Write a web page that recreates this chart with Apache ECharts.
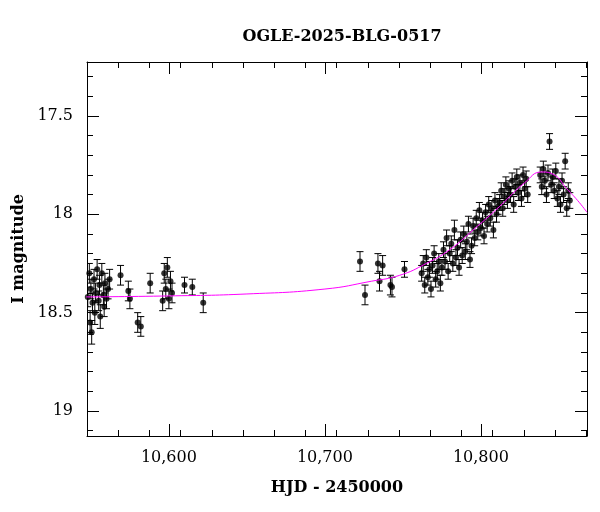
<!DOCTYPE html>
<html><head><meta charset="utf-8">
<script src="https://cdn.jsdelivr.net/npm/echarts@6/dist/echarts.min.js"></script>
<style>body{margin:0}#main{width:600px;height:512px}</style>
</head><body><div id="main"></div>
<script>
// HJD - 2450000, I magnitude, error
var obsHjd = [10548,10549,10549.5,10550,10550.5,10551,10552,10552.5,10553,10554,10555,10555.5,10556,10557,10558,10558.5,10559,10560,10561,10562,
  10569,10574,10575,10580,10582,10588,10596,10597,10598,10599,10600,10601,10602,10610,10615,10622,
  10722.5,10725.7,10734,10735,10737,10742,10743,10751,
  10762,10763,10764,10765,10766,10767,10768,10769,10770,10771,10772,10773,10774,10775,
  10776,10777,10778,10779,10780,10781,10782,10783,10784,10785,10786,10787,10788,10789,10790,10791,10792,10793,10794,
  10795,10796,10797,10798,10799,10800,10801,10802,10803,10804,10805,10806,10807,10808,10809,10810,10811,
  10812,10813,10814,10815,10816,10817,10818,10819,10820,10821,10822,10823,10824,10825,10826,10827,10828,10829,10830,
  10838,10839,10840,10841,10842,10843,10844,10845,10846,10847,10848,10849,
  10850,10851,10852,10853,10854,10855,10856,10857];
var obsMag = [18.42,18.30,18.55,18.38,18.60,18.45,18.33,18.50,18.40,18.28,18.44,18.36,18.52,18.30,18.41,18.47,18.35,18.43,18.38,18.33,
  18.31,18.39,18.43,18.55,18.57,18.35,18.44,18.30,18.38,18.27,18.43,18.34,18.40,18.36,18.37,18.45,
  18.24,18.41,18.25,18.34,18.26,18.36,18.37,18.28,
  18.30,18.25,18.36,18.22,18.32,18.28,18.38,18.26,18.20,18.33,18.29,18.24,18.35,18.27,
  18.18,18.24,18.12,18.29,18.20,18.15,18.25,18.08,18.22,18.17,18.27,18.13,18.21,18.10,18.19,18.14,18.05,18.23,18.16,
  18.06,18.12,18.02,18.09,17.98,18.07,18.03,18.11,17.99,18.05,17.95,18.02,17.97,18.08,17.93,18.00,17.96,
  17.94,17.88,17.97,17.91,17.85,17.93,17.87,17.90,17.83,17.95,17.86,17.81,17.89,17.84,17.92,17.80,17.87,17.82,17.90,
  17.80,17.86,17.77,17.83,17.90,17.79,17.63,17.85,17.81,17.88,17.78,17.92,
  17.86,17.95,17.83,17.90,17.73,17.97,17.88,17.93];
var obsErr = [0.05,0.05,0.06,0.05,0.06,0.05,0.05,0.06,0.05,0.05,0.05,0.05,0.06,0.05,0.05,0.05,0.05,0.05,0.05,0.05,
  0.05,0.05,0.05,0.05,0.05,0.05,0.05,0.05,0.05,0.05,0.05,0.05,0.05,0.04,0.04,0.05,
  0.05,0.05,0.05,0.05,0.05,0.05,0.05,0.04,
  0.04,0.04,0.04,0.04,0.04,0.04,0.04,0.04,0.04,0.04,0.04,0.04,0.04,0.04,
  0.04,0.04,0.04,0.04,0.04,0.04,0.04,0.05,0.04,0.04,0.04,0.04,0.04,0.04,0.04,0.04,0.04,0.04,0.04,
  0.04,0.04,0.04,0.04,0.04,0.04,0.04,0.04,0.04,0.04,0.04,0.04,0.04,0.04,0.04,0.04,0.04,
  0.04,0.04,0.04,0.04,0.04,0.04,0.04,0.04,0.04,0.04,0.04,0.04,0.04,0.04,0.04,0.04,0.04,0.04,0.04,
  0.04,0.04,0.04,0.04,0.04,0.04,0.04,0.04,0.04,0.04,0.04,0.04,
  0.04,0.04,0.04,0.04,0.04,0.04,0.04,0.04];
var modelHjd = [10547,10600,10650,10700,10730,10748,10765,10780,10795,10812,10828,10839,10847,10855,10862,10868];
var modelMag = [18.42,18.415,18.405,18.38,18.34,18.31,18.25,18.18,18.08,17.96,17.84,17.785,17.80,17.87,17.93,17.99];
var xMajor = [10600,10700,10800];
var yMajor = [17.5,18,18.5,19];

var FONT = 'DejaVu Serif';
var XMIN = 10547.5, XMAX = 10868, YMIN = 17.226, YMAX = 19.127;
var myChart = echarts.init(document.getElementById('main'));

var points = [], bars = [], model = [];
for (var i = 0; i < obsHjd.length; i++) {
  points.push([obsHjd[i], obsMag[i]]);
  bars.push([obsHjd[i], obsMag[i] - obsErr[i], obsMag[i] + obsErr[i]]);
}
for (var j = 0; j < modelHjd.length; j++) model.push([modelHjd[j], modelMag[j]]);

function xAx(pos, major, show) {
  return {
    type: 'value', position: pos, min: XMIN, max: XMAX,
    interval: major ? undefined : 20,
    axisLine: {show: major, onZero: false, lineStyle: {color: '#000'}},
    axisTick: major ? {inside: true, length: 12, customValues: xMajor, lineStyle: {color: '#000'}}
                    : {inside: true, length: 6, lineStyle: {color: '#000'}},
    axisLabel: major && show ? {customValues: xMajor, color: '#000', fontFamily: FONT, fontSize: 16, margin: 14} : {show: false},
    splitLine: {show: false},
    name: major && show ? 'HJD - 2450000' : '', nameLocation: 'middle', nameGap: 44,
    nameTextStyle: {color: '#000', fontFamily: FONT, fontSize: 16, fontWeight: 'bold'}
  };
}
function yAx(pos, major, show) {
  return {
    type: 'value', position: pos, inverse: true, min: YMIN, max: YMAX,
    interval: major ? undefined : 0.1,
    axisLine: {show: major, onZero: false, lineStyle: {color: '#000'}},
    axisTick: major ? {inside: true, length: 12, customValues: yMajor, lineStyle: {color: '#000'}}
                    : {inside: true, length: 6, customValues: [17.3,17.4,17.6,17.7,17.8,17.9,18.1,18.2,18.3,18.4,18.6,18.7,18.8,18.9,19.1], lineStyle: {color: '#000'}},
    axisLabel: major && show ? {customValues: yMajor, color: '#000', fontFamily: FONT, fontSize: 16, margin: 14} : {show: false},
    splitLine: {show: false},
    name: major && show ? 'I magnitude' : '', nameLocation: 'middle', nameGap: 58,
    nameTextStyle: {color: '#000', fontFamily: FONT, fontSize: 16, fontWeight: 'bold'}
  };
}

var option = {
  backgroundColor: '#fff',
  animation: false,
  title: {text: 'OGLE-2025-BLG-0517', left: 337, top: 24, textAlign: 'center',
    textStyle: {fontFamily: FONT, fontSize: 16, fontWeight: 'bold', color: '#000'}},
  grid: {left: 87, right: 13, top: 62, bottom: 76},
  xAxis: [xAx('bottom', true, true), xAx('top', true, false), xAx('bottom', false), xAx('top', false)],
  yAxis: [yAx('left', true, true), yAx('right', true, false), yAx('left', false), yAx('right', false)],
  series: [
    {
      type: 'custom', data: bars, clip: true,
      renderItem: function (params, api) {
        var a = api.coord([api.value(0), api.value(1)]);
        var b = api.coord([api.value(0), api.value(2)]);
        var w = 3.5, s = {stroke: '#000', lineWidth: 1};
        return {type: 'group', children: [
          {type: 'line', shape: {x1: a[0], y1: a[1], x2: b[0], y2: b[1]}, style: s},
          {type: 'line', shape: {x1: a[0] - w, y1: a[1], x2: a[0] + w, y2: a[1]}, style: s},
          {type: 'line', shape: {x1: b[0] - w, y1: b[1], x2: b[0] + w, y2: b[1]}, style: s}
        ]};
      }
    },
    {type: 'scatter', data: points, symbolSize: 6, itemStyle: {color: '#000'}},
    {type: 'line', data: model, smooth: true, showSymbol: false, clip: true,
      lineStyle: {color: '#ff00ff', width: 1}}
  ]
};
myChart.setOption(option);
</script></body></html>
